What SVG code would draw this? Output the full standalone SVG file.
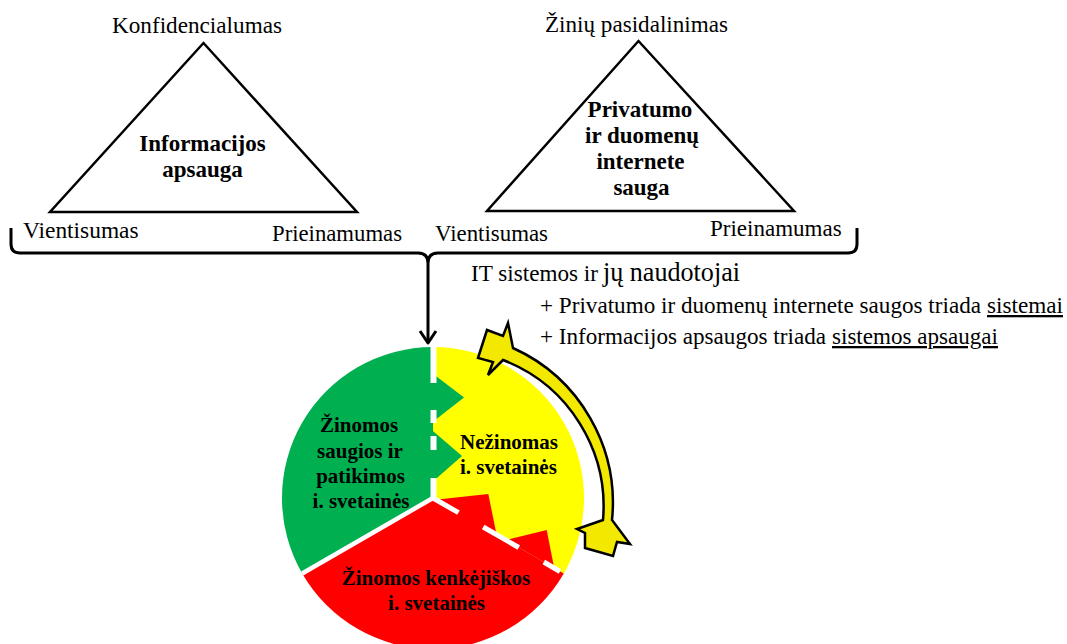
<svg xmlns="http://www.w3.org/2000/svg" width="1067" height="644" viewBox="0 0 1067 644">
<style>
text{font-family:"Liberation Serif","Times New Roman",serif;fill:#000}
.r{font-size:23px;font-weight:normal}
.b{font-size:23px;font-weight:bold}
.pb{font-size:21px;font-weight:bold}
.tri{fill:#fff;stroke:#000;stroke-width:2.5;stroke-linejoin:miter}
.br{fill:none;stroke:#000;stroke-width:3;stroke-linecap:butt;stroke-linejoin:round}
.wd{stroke:#fff;stroke-width:6;stroke-linecap:butt}
</style>
<rect width="1067" height="644" fill="#fff"/>

<g id="triangle-info">
<polygon class="tri" points="203.5,43 50,212 357,212"/>
<text class="r" x="112" y="33" textLength="170" lengthAdjust="spacingAndGlyphs">Konfidencialumas</text>
<text class="b" x="202.5" y="151" text-anchor="middle">Informacijos</text>
<text class="b" x="202.5" y="177" text-anchor="middle">apsauga</text>
<text class="r" x="23" y="238" textLength="115.6" lengthAdjust="spacingAndGlyphs">Vientisumas</text>
<text class="r" x="272" y="241" textLength="130" lengthAdjust="spacingAndGlyphs">Prieinamumas</text>
</g>

<g id="triangle-privacy">
<polygon class="tri" points="638.5,41 487,211 794,211"/>
<text class="r" x="545" y="32" textLength="183" lengthAdjust="spacingAndGlyphs">Žinių pasidalinimas</text>
<text class="b" x="640" y="117" text-anchor="middle">Privatumo</text>
<text class="b" x="642" y="143" text-anchor="middle">ir duomenų</text>
<text class="b" x="640.5" y="169" text-anchor="middle">internete</text>
<text class="b" x="641.5" y="195" text-anchor="middle">sauga</text>
<text class="r" x="435" y="241" textLength="113" lengthAdjust="spacingAndGlyphs">Vientisumas</text>
<text class="r" x="710" y="236" textLength="131.7" lengthAdjust="spacingAndGlyphs">Prieinamumas</text>
</g>

<g id="connectors">
<path class="br" d="M11,228 L11,244 Q11,253 20,253 L418,253 Q428,253 428,263 L428,342 M428,263 Q428,253 438,253 L848,253 Q857,253 857,244 L857,228"/>
<path class="br" d="M420,331 L428,343 L436,331" stroke-linejoin="miter"/>
</g>

<g id="legend-text">
<text class="r" x="471" y="281"><tspan textLength="127" lengthAdjust="spacingAndGlyphs">IT sistemos ir</tspan><tspan x="603" font-size="26.5px" textLength="137" lengthAdjust="spacingAndGlyphs">jų naudotojai</tspan></text>
<text class="r" x="540" y="313"><tspan textLength="441" lengthAdjust="spacingAndGlyphs">+ Privatumo ir duomenų internete saugos triada</tspan><tspan x="987" text-decoration="underline" textLength="76" lengthAdjust="spacingAndGlyphs">sistemai</tspan></text>
<text class="r" x="540" y="344"><tspan textLength="286" lengthAdjust="spacingAndGlyphs">+ Informacijos apsaugos triada</tspan><tspan x="832" text-decoration="underline" textLength="166" lengthAdjust="spacingAndGlyphs">sistemos apsaugai</tspan></text>
</g>

<g id="pie">
<path id="sector-green" d="M433,498 L302.2,573.5 A151,151 0 0 1 433,347 Z" fill="#00b050"/>
<path id="sector-yellow" d="M433,498 L433,347 A151,151 0 0 1 563.8,573.5 Z" fill="#ffff00"/>
<path id="sector-red" d="M433,498 L563.8,573.5 A151,151 0 0 1 302.2,573.5 Z" fill="#ff0000"/>
<polygon points="430,371.5 464,397.5 430,424" fill="#00b050"/>
<polygon points="430,428.5 462,456 430,484" fill="#00b050"/>
<polygon points="433,500 488.3,494 496.6,534.7" fill="#ff0000"/>
<polygon points="506,540 546.7,530 554.2,568" fill="#ff0000"/>
<line x1="433" y1="498" x2="302.2" y2="573.5" stroke="#fff" stroke-width="4.5"/>
<g class="wd">
<line x1="433.5" y1="346" x2="433.5" y2="383"/>
<line x1="433.5" y1="410" x2="433.5" y2="423"/>
<line x1="433.5" y1="436" x2="433.5" y2="450"/>
<line x1="433.5" y1="478" x2="433.5" y2="498"/>
<line x1="433" y1="498" x2="458.5" y2="512.7" stroke-width="5"/>
<line x1="483.2" y1="527" x2="518.8" y2="547.5" stroke-width="5"/>
<line x1="543.8" y1="562" x2="560" y2="571.5" stroke-width="5"/>
</g>
<text class="pb" x="359" y="432" text-anchor="middle">Žinomos</text>
<text class="pb" x="360" y="457.5" text-anchor="middle">saugios ir</text>
<text class="pb" x="360.5" y="483" text-anchor="middle">patikimos</text>
<text class="pb" x="361" y="508" text-anchor="middle">i. svetainės</text>
<text class="pb" x="460" y="449">Nežinomas</text>
<text class="pb" x="460" y="474">i. svetainės</text>
<text class="pb" x="436" y="585" text-anchor="middle">Žinomos kenkėjiškos</text>
<text class="pb" x="436.5" y="610" text-anchor="middle">i. svetainės</text>
</g>

<g id="cycle-arrow">
<path d="M513,348 A170,170 0 0 1 612,520 L630,544 L617,542 L613,556 L585,548 L585,533 L577,529 L603,520 A157,157 0 0 0 503,360 L488,375 L493,362 L478,358 L487,330 L503,336 L508,323 Z" fill="#f2e800" stroke="#000" stroke-width="2.5" stroke-linejoin="miter"/>
</g>
</svg>
